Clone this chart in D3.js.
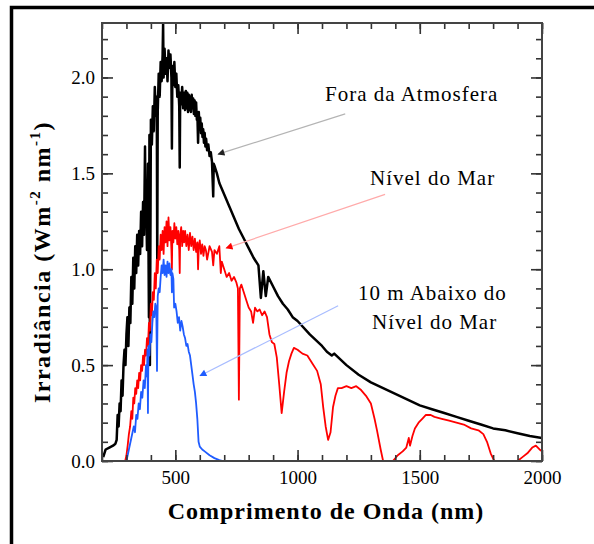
<!DOCTYPE html>
<html>
<head>
<meta charset="utf-8">
<script src="https://cdn.jsdelivr.net/npm/d3@7"></script>
<style>
  body { margin: 0; background: #fff; }
  text { font-family: "Liberation Serif", "Times New Roman", serif; }
</style>
</head>
<body>
<svg width="594" height="544"></svg>
<script>
// Irradiancia solar: fora da atmosfera, ao nivel do mar e 10 m abaixo
const foraWl = [205,215,230,245,255,260,264,268,272,276,280,284,288,292,296,300,304,308,312,316,320,324,328,332,336,340,344,348,352,356,360,364,368,372,376,378,380,384,388,392,394,396,400,404,408,412,416,420,424,426,428,432,436,440,444,448,450,452,456,460,464,468,472,476,480,484,486,488,492,496,500,504,508,512,516,518,520,524,528,532,536,540,543,546,549,552,555,558,561,564,567,570,573,576,579,582,585,588,590,593,596,599,602,605,608,611,614,617,620,623,626,630,635,640,645,650,655,657,660,670,680,700,720,740,760,780,800,820,840,850,860,870,880,900,920,940,960,980,1000,1050,1100,1120,1140,1150,1200,1250,1300,1350,1400,1450,1500,1550,1600,1650,1700,1750,1800,1850,1900,1950,2000]
const foraVal = [0.02,0.06,0.07,0.08,0.09,0.11,0.24,0.18,0.30,0.26,0.42,0.34,0.50,0.58,0.50,0.66,0.75,0.60,0.80,0.72,0.96,0.82,1.06,0.90,1.12,0.98,1.18,1.02,1.20,1.08,1.30,1.12,1.35,1.18,1.64,1.30,1.42,1.10,1.55,0.75,1.70,0.50,1.78,1.65,1.85,1.72,1.95,1.80,1.90,1.05,1.82,2.02,1.90,2.08,1.98,2.12,2.28,2.00,2.15,2.02,2.10,1.98,2.14,2.05,2.12,2.00,1.63,2.06,1.96,2.08,1.95,2.02,1.90,1.96,1.85,1.53,1.92,1.86,1.95,1.84,1.92,1.83,1.93,1.84,1.92,1.82,1.91,1.83,1.90,1.82,1.91,1.84,1.89,1.81,1.88,1.80,1.87,1.78,1.82,1.66,1.82,1.74,1.79,1.71,1.76,1.69,1.73,1.66,1.71,1.64,1.68,1.62,1.65,1.59,1.61,1.56,1.38,1.55,1.54,1.50,1.45,1.39,1.33,1.27,1.21,1.16,1.11,1.06,1.02,0.85,0.99,0.86,0.96,0.91,0.86,0.82,0.79,0.75,0.73,0.66,0.60,0.57,0.55,0.56,0.50,0.45,0.41,0.38,0.35,0.32,0.29,0.27,0.25,0.23,0.21,0.19,0.17,0.16,0.145,0.13,0.12]

const marWl = [295,300,305,310,315,320,324,328,332,336,340,344,348,352,356,360,364,368,372,376,380,384,388,392,396,400,404,408,412,416,420,424,428,432,436,440,444,448,452,456,460,464,468,472,476,480,484,486,488,492,496,500,504,508,512,516,518,520,524,528,532,536,540,545,550,555,560,565,570,575,580,585,590,593,596,600,605,610,615,620,625,630,640,650,655,660,670,680,686,690,700,710,720,730,740,750,756,760,764,770,780,790,800,810,818,826,835,845,855,865,875,885,895,905,915,925,935,945,955,965,975,985,1000,1020,1040,1060,1080,1095,1105,1115,1125,1135,1145,1155,1165,1180,1200,1220,1240,1260,1280,1300,1315,1325,1340,1350,1390,1410,1430,1445,1455,1460,1470,1480,1495,1510,1525,1545,1560,1575,1590,1620,1650,1680,1710,1740,1760,1775,1790,1805,1900,1920,1940,1960,1975,1990,2000]
const marVal = [0,0.03,0.08,0.14,0.18,0.26,0.22,0.33,0.30,0.38,0.35,0.42,0.38,0.46,0.42,0.50,0.47,0.55,0.50,0.58,0.55,0.64,0.60,0.72,0.68,0.82,0.76,0.88,0.84,0.98,0.90,1.05,0.98,1.12,1.05,1.18,1.10,1.20,1.08,1.22,1.14,1.25,1.12,1.27,1.15,1.22,1.10,1.00,1.20,1.14,1.24,1.16,1.22,1.13,1.20,1.10,0.98,1.18,1.22,1.12,1.20,1.14,1.20,1.12,1.18,1.10,1.19,1.12,1.17,1.10,1.16,1.09,1.14,1.00,1.12,1.15,1.08,1.13,1.07,1.12,1.10,1.05,1.12,1.09,1.02,1.10,1.08,1.12,0.98,1.04,1.00,0.96,0.98,0.94,0.96,0.93,0.90,0.32,0.90,0.92,0.88,0.84,0.80,0.78,0.72,0.80,0.78,0.79,0.76,0.78,0.75,0.66,0.62,0.61,0.54,0.40,0.25,0.36,0.46,0.52,0.56,0.59,0.58,0.56,0.55,0.51,0.47,0.40,0.28,0.18,0.11,0.15,0.28,0.34,0.38,0.38,0.39,0.38,0.39,0.37,0.34,0.30,0.22,0.16,0.06,0,0,0.03,0.05,0.07,0.12,0.08,0.13,0.17,0.20,0.22,0.24,0.24,0.23,0.225,0.22,0.21,0.20,0.19,0.17,0.16,0.14,0.10,0.04,0,0,0.02,0.04,0.07,0.08,0.06,0.05]

const abaixoWl = [300,310,320,330,335,340,345,350,355,360,365,370,375,380,384,386,388,390,394,398,402,406,410,414,418,422,425,428,432,436,440,444,448,452,456,460,464,468,472,476,480,484,486,488,492,495,500,505,510,515,520,525,530,535,540,545,550,555,560,565,570,575,580,585,590,595,600,610,620,640,660,680,695]
const abaixoVal = [0,0.06,0.12,0.18,0.15,0.24,0.22,0.30,0.27,0.36,0.33,0.42,0.38,0.50,0.44,0.58,0.25,0.60,0.55,0.66,0.62,0.72,0.78,0.75,0.82,0.80,0.47,0.86,0.90,0.88,0.96,1.02,0.98,1.05,0.97,1.02,0.96,1.04,0.98,1.03,0.97,1.00,0.88,0.98,0.95,0.80,0.82,0.78,0.72,0.75,0.68,0.73,0.70,0.66,0.64,0.60,0.61,0.57,0.55,0.50,0.45,0.40,0.36,0.30,0.22,0.10,0.075,0.06,0.05,0.03,0.015,0.005,0]

const seriesColors = ["#000000", "#ff0000", "#1f5cff"]
const arrowColors = ["#b4b4b4", "#ffaaaa", "#a8bcff"]

// setas: [origem, ponta] em unidades dos dados
const arrows = [
  [[1195, 1.81], [675, 1.60]],
  [[1358, 1.39], [708, 1.11]],
  [[1166, 0.81], [601, 0.445]]
]

const xMinor = d3.range(200, 2001, 100)
const xMajor = [500, 1000, 1500, 2000]
const yMinor = d3.range(0, 2.29, 0.1)
const yMajor = [0, 0.5, 1.0, 1.5, 2.0]

const svg = d3.select("svg")
const margin = {left: 102, top: 23, right: 52, bottom: 83}
const width = 594 - margin.left - margin.right
const height = 544 - margin.top - margin.bottom

// moldura externa
svg.append("rect")
  .attr("x", 11.5).attr("y", 7.5)
  .attr("width", 700).attr("height", 700)
  .attr("fill", "none").attr("stroke", "#000").attr("stroke-width", 3.5)

const g = svg.append("g").attr("transform", `translate(${margin.left},${margin.top})`)

const x = d3.scaleLinear().domain([200, 2000]).range([0, width])
const y = d3.scaleLinear().domain([0, 2.284]).range([height, 0])

g.append("clipPath").attr("id", "clip")
  .append("rect").attr("width", width).attr("height", height)

const line = d3.line()
  .x(d => x(d[0]))
  .y(d => y(d[1]))

const series = [
  d3.zip(foraWl, foraVal),
  d3.zip(marWl, marVal),
  d3.zip(abaixoWl, abaixoVal)
]

g.append("g").attr("clip-path", "url(#clip)")
  .selectAll("path")
  .data(series)
  .enter().append("path")
  .attr("d", line)
  .attr("fill", "none")
  .attr("stroke", (d, i) => seriesColors[i])
  .attr("stroke-width", (d, i) => i == 0 ? 2.5 : 1.8)
  .attr("stroke-linejoin", "round")

// setas das legendas
const defs = svg.append("defs")
seriesColors.forEach((c, i) => {
  defs.append("marker")
    .attr("id", "head" + i)
    .attr("viewBox", "0 0 10 10")
    .attr("refX", 9).attr("refY", 5)
    .attr("markerUnits", "userSpaceOnUse")
    .attr("markerWidth", 10).attr("markerHeight", 7)
    .attr("orient", "auto")
    .append("path")
    .attr("d", "M0,0L10,5L0,10z")
    .attr("fill", i == 0 ? "#222" : c)
})

g.selectAll("line.arrow")
  .data(arrows)
  .enter().append("line")
  .attr("class", "arrow")
  .attr("x1", d => x(d[0][0])).attr("y1", d => y(d[0][1]))
  .attr("x2", d => x(d[1][0])).attr("y2", d => y(d[1][1]))
  .attr("stroke", (d, i) => arrowColors[i])
  .attr("stroke-width", 1.2)
  .attr("marker-end", (d, i) => `url(#head${i})`)

// rotulos
const labels = [
  {text: "Fora da Atmosfera", x: 223, y: 78},
  {text: "Nível do Mar", x: 268, y: 162},
  {text: "10 m Abaixo do", x: 256, y: 277},
  {text: "Nível do Mar", x: 270, y: 306}
]
g.selectAll("text.lab")
  .data(labels)
  .enter().append("text")
  .attr("class", "lab")
  .attr("x", d => d.x).attr("y", d => d.y)
  .attr("font-size", 21)
  .attr("letter-spacing", 1)
  .text(d => d.text)

// eixos com marcas para dentro
const axisStyle = sel => {
  sel.select(".domain").remove()
  sel.selectAll("line").attr("stroke", "#333").attr("stroke-width", 1.6)
  sel.selectAll("text")
    .attr("font-size", 19).attr("fill", "#000")
}

g.append("g").attr("transform", `translate(0,${height})`)
  .call(d3.axisBottom(x).tickValues(xMinor).tickSize(-6).tickFormat(""))
  .call(axisStyle)
g.append("g").attr("transform", `translate(0,${height})`)
  .call(d3.axisBottom(x).tickValues(xMajor).tickSize(-11).tickPadding(10).tickFormat(d3.format("d")))
  .call(axisStyle)
g.append("g")
  .call(d3.axisTop(x).tickValues(xMinor).tickSize(-6).tickFormat(""))
  .call(axisStyle)
g.append("g")
  .call(d3.axisTop(x).tickValues(xMajor).tickSize(-11).tickFormat(""))
  .call(axisStyle)
g.append("g")
  .call(d3.axisLeft(y).tickValues(yMinor).tickSize(-6).tickFormat(""))
  .call(axisStyle)
g.append("g")
  .call(d3.axisLeft(y).tickValues(yMajor).tickSize(-11).tickPadding(7).tickFormat(d3.format(".1f")))
  .call(axisStyle)
g.append("g").attr("transform", `translate(${width},0)`)
  .call(d3.axisRight(y).tickValues(yMinor).tickSize(-6).tickFormat(""))
  .call(axisStyle)
g.append("g").attr("transform", `translate(${width},0)`)
  .call(d3.axisRight(y).tickValues(yMajor).tickSize(-11).tickFormat(""))
  .call(axisStyle)

g.append("rect")
  .attr("width", width).attr("height", height)
  .attr("fill", "none").attr("stroke", "#444").attr("stroke-width", 2)

// titulos dos eixos
g.append("text")
  .attr("x", width / 2 + 4).attr("y", height + 58)
  .attr("text-anchor", "middle")
  .attr("font-size", 24).attr("font-weight", "bold")
  .attr("letter-spacing", 1)
  .text("Comprimento de Onda (nm)")

const yt = g.append("text")
  .attr("transform", `translate(-52,${height / 2 + 20}) rotate(-90)`)
  .attr("text-anchor", "middle")
  .attr("font-size", 24).attr("font-weight", "bold")
  .attr("letter-spacing", 1.5)
yt.append("tspan").text("Irradiância (Wm")
yt.append("tspan").attr("font-size", 15).attr("dy", -10).text("-2")
yt.append("tspan").attr("dy", 10).text(" nm")
yt.append("tspan").attr("font-size", 15).attr("dy", -10).text("-1")
yt.append("tspan").attr("dy", 10).text(")")
</script>
</body>
</html>
